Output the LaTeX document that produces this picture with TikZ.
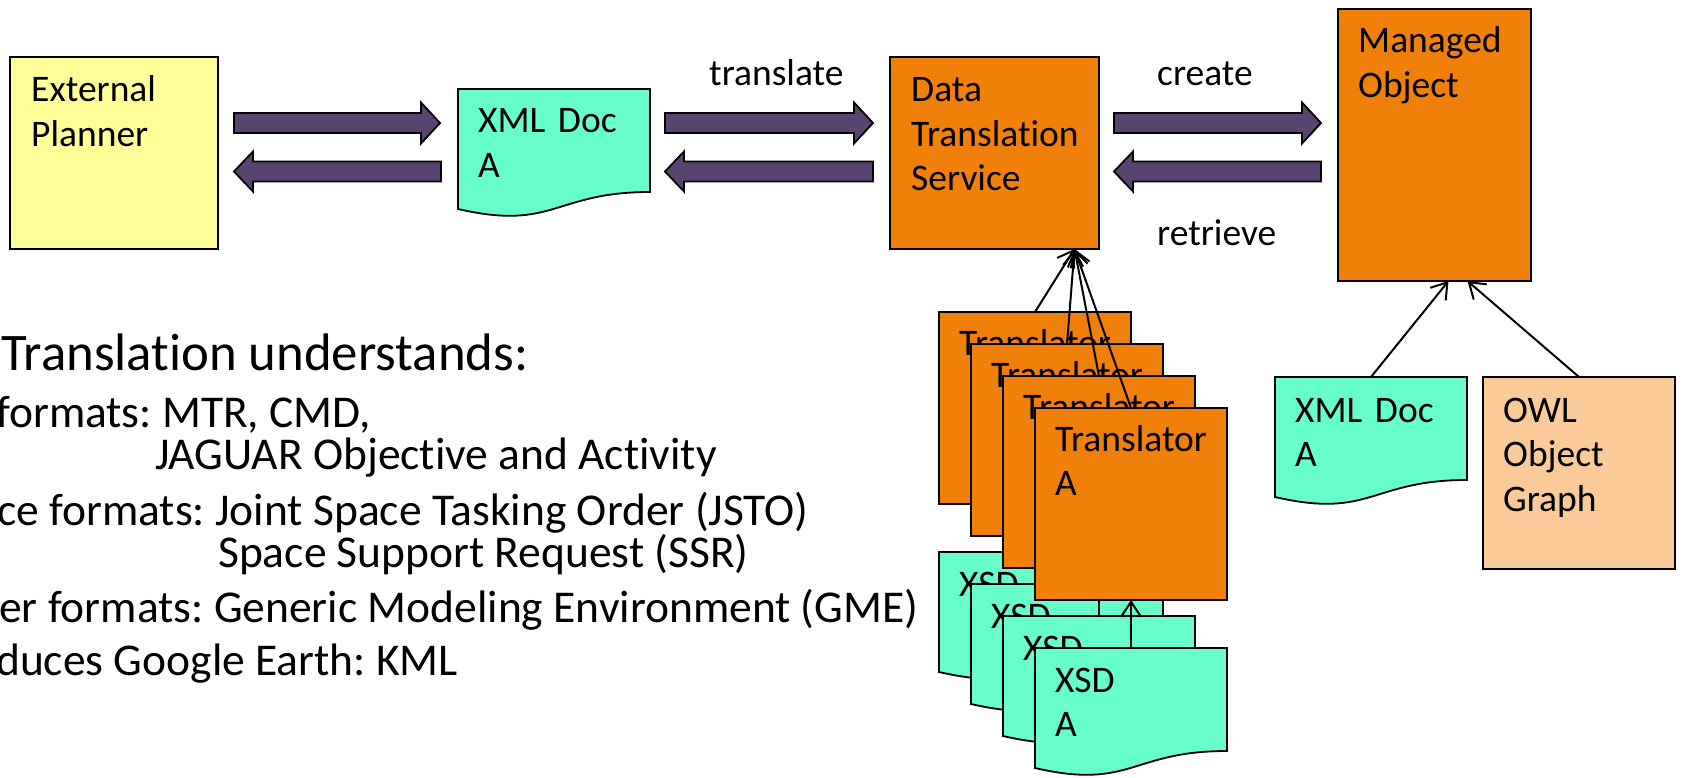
\documentclass[tikz,border=0pt]{standalone}
\usepackage{fontspec}
\setmainfont{Carlito}[Ligatures=NoCommon]
\frenchspacing
\usetikzlibrary{calc,arrows.meta}
\definecolor{epyellow}{RGB}{255,255,153}
\definecolor{aqua}{RGB}{102,255,204}
\definecolor{orng}{RGB}{240,128,10}
\definecolor{peach}{RGB}{250,203,152}
\definecolor{blkpurple}{RGB}{87,68,112}
\newcommand\docpath[1]{\draw[docline] (#1.north west) -- (#1.north east) -- ($(#1.north east)+(0,103)$) .. controls ($(#1.north)+(0,103)$) and ($(#1.north)+(0,142.2)$) .. ($(#1.north west)+(0,120)$) -- cycle;}
\newcommand\rblk[2]{\draw[blk] ($(#1)+(0,-10)$) -- ($(#2)+(-19,-10)$) -- ($(#2)+(-19,-20.5)$) -- (#2) -- ($(#2)+(-19,20.5)$) -- ($(#2)+(-19,10)$) -- ($(#1)+(0,10)$) -- cycle;}
\newcommand\lblk[2]{\draw[blk] (#1) -- ($(#1)+(19,-20)$) -- ($(#1)+(19,-10)$) -- ($(#2)+(0,-10)$) -- ($(#2)+(0,10)$) -- ($(#1)+(19,10)$) -- ($(#1)+(19,20)$) -- cycle;}
\begin{document}
\begin{tikzpicture}[x=1pt,y=-1pt,
  shapebox/.style={draw=black, line width=1.8pt, anchor=north west, inner sep=0pt, outer sep=0pt},
  docbox/.style={anchor=north west, inner sep=0pt, outer sep=0pt, minimum width=192, minimum height=128.4},
  docline/.style={draw=black, line width=1.8pt, fill=aqua},
  btext/.style={anchor=base west, inner sep=0pt, font=\fontsize{37.5}{44.5}\selectfont, align=left, text width=185},
  lbl/.style={anchor=base west, inner sep=0pt, font=\fontsize{37.5}{44.5}\selectfont},
  body/.style={anchor=base west, inner sep=0pt, font=\fontsize{45.5}{53}\selectfont},
  conn/.style={line width=2pt, -{Straight Barb[length=15pt,width=20pt]}},
  blk/.style={draw=black, line width=1.8pt, fill=blkpurple, line join=miter}]
\useasboundingbox (0,0) rectangle (1682,778);
\fill[white] (0,0) rectangle (1682,778);
% top row
\node[shapebox, fill=epyellow, minimum width=208, minimum height=192] (ep) at (10,57) {};
\node[btext] (eptxt) at ($(ep.north west)+(21,45)$) {External\\Planner};
\node[docbox] (xml1) at (458,89) {};
\docpath{xml1}
\node[btext] (xml1txt) at ($(xml1.north west)+(20,44)$) {XML Doc\\A};
\node[shapebox, fill=orng, minimum width=209, minimum height=192] (dts) at (890,57) {};
\node[btext] (dtstxt) at ($(dts.north west)+(21,45)$) {Data\\Translation\\Service};
\node[shapebox, fill=orng, minimum width=193, minimum height=272] (mo) at (1338,9) {};
\node[btext] (motxt) at ($(mo.north west)+(20,44)$) {Managed\\Object};
% block arrows
\coordinate (rowR) at (0,123);
\coordinate (rowL) at (0,171.5);
\coordinate (a1s) at ($(ep.east |- rowR)+(16,0)$);
\coordinate (a1e) at ($(xml1.west |- rowR)+(-18,0)$);
\coordinate (b1t) at ($(ep.east |- rowL)+(16,0)$);
\coordinate (b1s) at ($(xml1.west |- rowL)+(-17,0)$);
\rblk{a1s}{a1e}
\lblk{b1t}{b1s}
\coordinate (a2s) at ($(xml1.east |- rowR)+(15,0)$);
\coordinate (a2e) at ($(dts.west |- rowR)+(-17,0)$);
\coordinate (b2t) at ($(xml1.east |- rowL)+(15,0)$);
\coordinate (b2s) at ($(dts.west |- rowL)+(-17,0)$);
\rblk{a2s}{a2e}
\lblk{b2t}{b2s}
\coordinate (a3s) at ($(dts.east |- rowR)+(15,0)$);
\coordinate (a3e) at ($(mo.west |- rowR)+(-17,0)$);
\coordinate (b3t) at ($(dts.east |- rowL)+(15,0)$);
\coordinate (b3s) at ($(mo.west |- rowL)+(-17,0)$);
\rblk{a3s}{a3e}
\lblk{b3t}{b3s}
\node[lbl] (ltrans) at (709,86) {translate};
\node[lbl] (lcreate) at (1157,86) {create};
\node[lbl] (lretr) at (1157,246) {retrieve};
\coordinate (dtsin) at ($(dts.south)+(80,0)$);
% translator stack
\node[shapebox, fill=orng, minimum width=192, minimum height=192] (t1) at (939,312) {};
\node[btext] (t1txt) at ($(t1.north west)+(20,43)$) {Translator};
\node[docbox] (x1) at (939,552) {};
\docpath{x1}
\node[btext] (x1txt) at ($(x1.north west)+(20,44)$) {XSD};
\draw[conn] (x1.north) -- (t1.south);
\draw[conn] (t1.north) -- (dtsin);
\node[shapebox, fill=orng, minimum width=192, minimum height=192] (t2) at (971,344) {};
\node[btext] (t2txt) at ($(t2.north west)+(20,43)$) {Translator};
\node[docbox] (x2) at (971,584) {};
\docpath{x2}
\node[btext] (x2txt) at ($(x2.north west)+(20,44)$) {XSD};
\draw[conn] (x2.north) -- (t2.south);
\draw[conn] (t2.north) -- (dtsin);
\node[shapebox, fill=orng, minimum width=192, minimum height=192] (t3) at (1003,376) {};
\node[btext] (t3txt) at ($(t3.north west)+(20,43)$) {Translator};
\node[docbox] (x3) at (1003,616) {};
\docpath{x3}
\node[btext] (x3txt) at ($(x3.north west)+(20,44)$) {XSD};
\draw[conn] (x3.north) -- (t3.south);
\draw[conn] (t3.north) -- (dtsin);
\node[shapebox, fill=orng, minimum width=192, minimum height=192] (ta) at (1035,408) {};
\node[btext] (tatxt) at ($(ta.north west)+(20,43)$) {Translator\\A};
\node[docbox] (xa) at (1035,648) {};
\docpath{xa}
\node[btext] (xatxt) at ($(xa.north west)+(20,44)$) {XSD\\A};
\draw[conn] (xa.north) -- (ta.south);
\draw[conn] (ta.north) -- (dtsin);
% right side
\node[docbox] (xml2) at (1275,377) {};
\docpath{xml2}
\node[btext] (xml2txt) at ($(xml2.north west)+(20,45)$) {XML Doc\\A};
\node[shapebox, fill=peach, minimum width=192, minimum height=192] (owl) at (1483,377) {};
\node[btext] (owltxt) at ($(owl.north west)+(20,45)$) {OWL\\Object\\Graph};
\coordinate (moin1) at ($(mo.south)+(14,0)$);
\coordinate (moin2) at ($(mo.south)+(33,0)$);
\draw[conn] (xml2.north) -- (moin1);
\draw[conn] (owl.north) -- (moin2);
% left text
\node[anchor=base west, inner sep=0pt, font=\fontsize{52.8}{60}\selectfont] (head) at (1,370) {Translation understands:};
\node[body] (l1) at (-4,427) {formats: MTR, CMD,};
\node[body] (l2) at (155,469) {JAGUAR Objective and Activity};
\node[body] (l3) at (-3,525) {ce formats: Joint Space Tasking Order (JSTO)};
\node[body] (l4) at (218,567) {Space Support Request (SSR)};
\node[body] (l5) at (-1,622) {er formats: Generic Modeling Environment (GME)};
\node[body] (l6) at (-4,675) {duces Google Earth: KML};
\end{tikzpicture}
\end{document}
